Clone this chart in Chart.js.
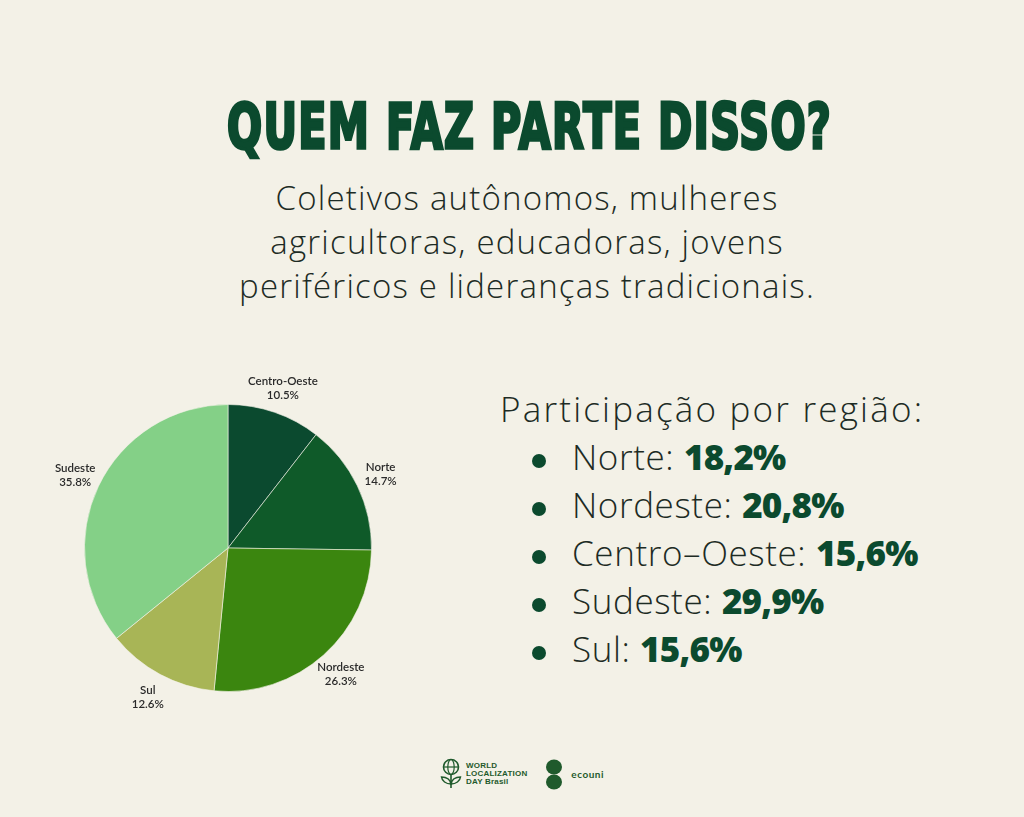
<!DOCTYPE html>
<html>
<head>
<meta charset="utf-8">
<script src="https://cdn.jsdelivr.net/npm/chart.js@4"></script>
<style>
  html, body { margin: 0; padding: 0; }
  body { width: 1024px; height: 817px; background: #f3f1e7; position: relative; overflow: hidden; font-family: 'Open Sans', 'Noto Sans', sans-serif; color: #1d2b24; }
  #title { position: absolute; left: 0; width: 1060px; top: 90px; text-align: center; }
  #title span { display: inline-block; font-family: 'DejaVu Sans', sans-serif; font-weight: bold; font-size: 62px; color: #0b4a2e; -webkit-text-stroke: 3.5px #0b4a2e; letter-spacing: 2px; transform-origin: center center; white-space: nowrap; }
  #sub { position: absolute; left: 0; width: 1054px; top: 176px; text-align: center; font-weight: 300; font-size: 33px; line-height: 44px; letter-spacing: 1.2px; color: #1d2b24; }
  #wrap { position: absolute; left: 0; top: 360px; width: 456px; height: 376px; }
  #info { position: absolute; left: 500px; top: 385px; font-weight: 300; font-size: 35px; line-height: 48px; color: #1d2b24; }
  #info .head { letter-spacing: 2.2px; }
  #info ul { list-style: none; margin: 0; padding: 0 0 0 38px; }
  #info li { position: relative; padding-left: 34px; white-space: nowrap; letter-spacing: 0.6px; }
  #info li:before { content: ''; position: absolute; left: -6px; top: 21px; width: 14px; height: 14px; border-radius: 50%; background: #0b4a2e; }
  #info b { font-weight: 800; color: #0b4a2e; letter-spacing: -0.8px; }
  #foot { position: absolute; left: 440px; top: 758px; display: flex; align-items: center; color: #1f5a2c; }
  #foot .wld { font-family: 'Liberation Sans', sans-serif; font-size: 8px; line-height: 8px; font-weight: bold; margin-left: 4px; letter-spacing: 0.2px; }
  #foot .eco { font-family: 'Lato', sans-serif; font-size: 10px; font-weight: bold; margin-left: 8px; letter-spacing: 0.5px; }
</style>
</head>
<body>
<div id="title"><span id="tt">QUEM FAZ PARTE DISSO?</span></div>
<div id="sub">Coletivos autônomos, mulheres<br>agricultoras, educadoras, jovens<br>periféricos e lideranças tradicionais.</div>
<div id="wrap"><canvas id="pie"></canvas></div>
<div id="info">
  <div class="head">Participação por região:</div>
  <ul id="list"></ul>
</div>
<div id="foot">
  <svg width="22" height="32" viewBox="0 0 22 32">
    <circle cx="11" cy="9" r="7.5" fill="none" stroke="#1f5a2c" stroke-width="1.6"/>
    <ellipse cx="11" cy="9" rx="3.2" ry="7.5" fill="none" stroke="#1f5a2c" stroke-width="1.2"/>
    <line x1="3.5" y1="9" x2="18.5" y2="9" stroke="#1f5a2c" stroke-width="1.2"/>
    <line x1="11" y1="16.5" x2="11" y2="30" stroke="#1f5a2c" stroke-width="1.6"/>
    <path d="M11 26 C6 26 2 23 1.5 19 C6 19 10 21 11 26 Z" fill="none" stroke="#1f5a2c" stroke-width="1.5"/>
    <path d="M11 26 C16 26 20 23 20.5 19 C16 19 12 21 11 26 Z" fill="none" stroke="#1f5a2c" stroke-width="1.5"/>
  </svg>
  <div class="wld">WORLD<br>LOCALIZATION<br>DAY Brasil</div>
  <svg width="18" height="32" viewBox="0 0 18 32" style="margin-left:18px">
    <ellipse cx="9" cy="9" rx="8" ry="7.5" fill="#1f5a2c"/>
    <ellipse cx="9" cy="24" rx="8" ry="7.5" fill="#1f5a2c"/>
  </svg>
  <div class="eco">ecouni</div>
</div>
<script>
// pie slices, clockwise from the top
const regions = ['Centro-Oeste', 'Norte', 'Nordeste', 'Sul', 'Sudeste'];
const shares = [10.5, 14.7, 26.3, 12.6, 35.8];
const sliceColors = ['#0b4a2f', '#0f5a29', '#3b860f', '#a8b556', '#84d087'];

// list on the right
const listRegions = ['Norte', 'Nordeste', 'Centro–Oeste', 'Sudeste', 'Sul'];
const listShares = ['18,2%', '20,8%', '15,6%', '29,9%', '15,6%'];

const list = document.getElementById('list');
listRegions.forEach((r, i) => {
  let li = document.createElement('li');
  li.innerHTML = `${r}: <b>${listShares[i]}</b>`;
  list.appendChild(li);
});

// squeeze title to its width in the picture
const tt = document.getElementById('tt');
tt.style.transform = `scaleX(${605 / tt.offsetWidth})`;

const outsideLabels = {
  id: 'outsideLabels',
  afterDatasetsDraw(chart) {
    const ctx = chart.ctx;
    const meta = chart.getDatasetMeta(0);
    ctx.save();
    ctx.font = '600 11.5px Lato, "Noto Sans", sans-serif';
    ctx.fillStyle = '#2a2a2a';
    ctx.textAlign = 'center';
    ctx.textBaseline = 'middle';
    meta.data.forEach((arc, i) => {
      const mid = (arc.startAngle + arc.endAngle) / 2;
      const r = arc.outerRadius * 1.18;
      const x = arc.x + Math.cos(mid) * r;
      const y = arc.y + Math.sin(mid) * r;
      ctx.fillText(chart.data.labels[i], x, y - 7);
      ctx.fillText(chart.data.datasets[0].data[i].toFixed(1) + '%', x, y + 7);
    });
    ctx.restore();
  }
};

new Chart(document.getElementById('pie'), {
  type: 'pie',
  data: {
    labels: regions,
    datasets: [{
      data: shares,
      backgroundColor: sliceColors,
      borderColor: 'rgba(243,241,231,0.6)',
      borderWidth: 1
    }]
  },
  options: {
    responsive: true,
    maintainAspectRatio: false,
    animation: false,
    layout: { padding: 44 },
    plugins: {
      legend: { display: false },
      tooltip: { enabled: false }
    }
  },
  plugins: [outsideLabels]
});
</script>
</body>
</html>
